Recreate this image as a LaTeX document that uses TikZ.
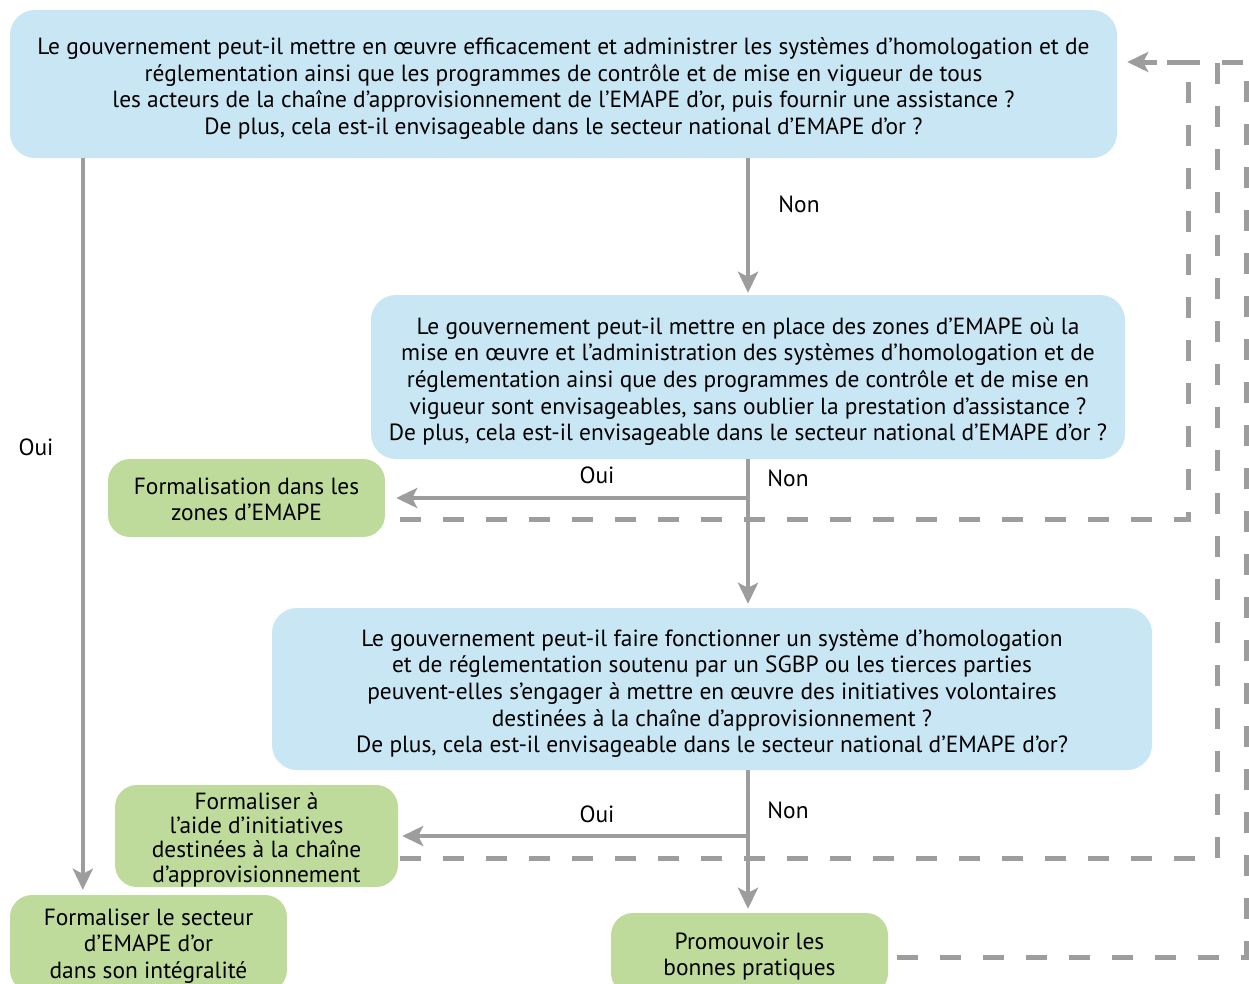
\documentclass[tikz,border=0pt]{standalone}
\usepackage{fontspec}
\setmainfont{PT Sans}
\usetikzlibrary{arrows.meta,calc}
\definecolor{qblue}{HTML}{C9E6F4}
\definecolor{qgreen}{HTML}{BFDB9C}
\definecolor{lgray}{HTML}{9D9D9D}
% tall invisible strut that pushes a text block down inside its box
\newcommand{\tallstrut}[1][26pt]{\rule{0pt}{#1}}
\tikzset{
  question/.style={fill=qblue, rounded corners=25pt, align=center, inner sep=0pt,
    font=\fontsize{23.4}{26.7}\selectfont},
  outcome/.style={fill=qgreen, rounded corners=22pt, align=center, inner sep=0pt,
    font=\fontsize{23.4}{26.5}\selectfont},
  lbl/.style={font=\fontsize{23.4}{25}\selectfont, inner sep=0pt},
  flow/.style={draw=lgray, line width=4pt,
    -{Stealth[length=21pt,width=20pt,inset=5pt]}},
  loop/.style={draw=lgray, line width=5pt, dash pattern=on 21pt off 22pt},
}
\begin{document}
\begin{tikzpicture}[x=1pt,y=-1pt]
\useasboundingbox (0,0) rectangle (1249,983);
\clip (0,0) rectangle (1249,983);

% decision boxes
\node[question, minimum width=1107pt, minimum height=148pt] (A) at (563.5,84)
  {\tallstrut Le gouvernement peut-il mettre en œuvre efficacement et administrer les systèmes d’homologation et de\\
   réglementation ainsi que les programmes de contrôle et de mise en vigueur de tous\\
   les acteurs de la chaîne d’approvisionnement de l’EMAPE d’or, puis fournir une assistance ?\\
   De plus, cela est-il envisageable dans le secteur national d’EMAPE d’or ?};
\node[question, minimum width=754pt, minimum height=164pt] (B) at (748,377)
  {\tallstrut Le gouvernement peut-il mettre en place des zones d’EMAPE où la\\
   mise en œuvre et l’administration des systèmes d’homologation et de\\
   réglementation ainsi que des programmes de contrôle et de mise en\\
   vigueur sont envisageables, sans oublier la prestation d’assistance ?\\
   De plus, cela est-il envisageable dans le secteur national d’EMAPE d’or ?};
\node[question, minimum width=880pt, minimum height=162pt] (C) at (712,689)
  {\tallstrut Le gouvernement peut-il faire fonctionner un système d’homologation\\
   et de réglementation soutenu par un SGBP ou les tierces parties\\
   peuvent-elles s’engager à mettre en œuvre des initiatives volontaires\\
   destinées à la chaîne d’approvisionnement ?\\
   De plus, cela est-il envisageable dans le secteur national d’EMAPE d’or?};

% outcome boxes
\node[outcome, minimum width=277pt, minimum height=78pt] (G1) at (246.5,498)
  {\tallstrut[19pt]Formalisation dans les\\ zones d’EMAPE};
\node[outcome, minimum width=283pt, minimum height=102pt,
      font=\fontsize{23.4}{24.4}\selectfont] (G2) at (256.5,836)
  {\tallstrut[24pt]Formaliser à\\ l’aide d’initiatives\\ destinées à la chaîne\\ d’approvisionnement};
\node[outcome, minimum width=277pt, minimum height=97pt] (G3) at (148.5,943.5)
  {\tallstrut[21pt]Formaliser le secteur\\ d’EMAPE d’or\\ dans son intégralité};
\node[outcome, minimum width=277pt, minimum height=82pt] (G4) at (749.5,954)
  {\tallstrut[22pt]Promouvoir les\\ bonnes pratiques};

% feedback loops back to the first question
\coordinate (k1) at (1188,62);
\coordinate (k2) at (1217,62);
\coordinate (k3) at (1246,62);
\draw[loop] ($(G1.east)+(15,21)$) -| (k1);
\draw[loop] ($(G2.east)+(2,22)$) -| (k2);
\draw[loop] ($(G4.east)+(9,3)$) -| (k3)
  -- ([xshift=10pt]A.east |- k3);
\draw[flow, dash pattern=on 21pt off 22pt, line width=5pt]
  (k1) -- ([xshift=10pt]A.east |- k1);

% main flow
\draw[flow, shorten >=5pt] ([xshift=73pt]A.south west) -- ([xshift=73pt]G3.north west);
\draw[flow, shorten >=2pt] (A.south -| B.north) -- (B.north);
\draw[flow, shorten >=4pt] (B.south) -- (C.north -| B.south);
\draw[flow, shorten >=11pt] (G1.east -| B.south) -- (G1.east);
\draw[flow, shorten >=4pt] (C.south -| B.south) -- (G4.north -| B.south);
\draw[flow, shorten >=4pt] (G2.east -| B.south) -- (G2.east);

% branch labels
\node[lbl] (l1) at (36,447) {Oui};
\node[lbl] (l2) at (799,204) {Non};
\node[lbl] (l3) at (788,478) {Non};
\node[lbl] (l4) at (597,475) {Oui};
\node[lbl] (l5) at (788,810) {Non};
\node[lbl] (l6) at (597,814) {Oui};
\end{tikzpicture}
\end{document}
